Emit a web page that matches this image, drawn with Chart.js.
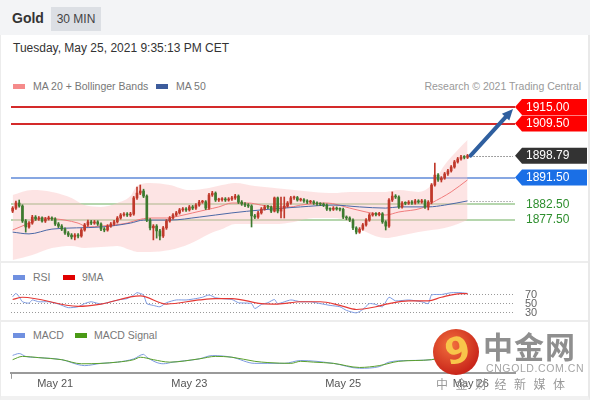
<!DOCTYPE html>
<html>
<head>
<meta charset="utf-8">
<script src="https://cdn.jsdelivr.net/npm/chart.js@4.4.1/dist/chart.umd.min.js"></script>
<style>
  html, body { margin: 0; padding: 0; background: #fff; }
  body { width: 590px; height: 400px; overflow: hidden; position: relative; font-family: "Liberation Sans", Arial, sans-serif; }
  #frame { position: absolute; left: 0; top: 0; width: 587px; height: 396px; border-left: 1px solid #ececec; border-right: 2px solid #e9e9e9; border-bottom: 4px solid #f1f1f1; }
  #hdr { position: absolute; left: 0; top: 0; width: 590px; height: 35px; background: #f3f4f6; }
  #hdr b { position: absolute; left: 12px; top: 10px; font-size: 14px; color: #333; }
  #hdr .tf { position: absolute; left: 51px; top: 7px; width: 50px; height: 24px; background: #dcdfe4; color: #444; font-size: 12px; line-height: 24px; text-align: center; }
  #stamp { position: absolute; left: 13px; top: 41px; font-size: 12px; color: #333; }
  .txt { position: absolute; font-size: 10.5px; color: #777; line-height: 13px; white-space: nowrap; }
  .sw { position: absolute; width: 12px; height: 5px; }
  .sep { position: absolute; left: 0; width: 588px; height: 2px; background: #ededed; }
  canvas { position: absolute; left: 0; }
  #logo { position: absolute; left: 433px; top: 329px; width: 46px; height: 46px; border-radius: 50%;
          background: radial-gradient(circle at 40% 35%, #f2703e, #c9261a 72%); overflow: hidden; }
  #logo span { position: absolute; left: 12px; top: 1px; font: bold 36px "DejaVu Sans", sans-serif; color: #f8c54a; transform: rotate(-12deg); }
  .wm { position: absolute; white-space: nowrap; color: #9a9a9a; font-family: "Noto Sans CJK SC", sans-serif; }
</style>
</head>
<body>
<div id="frame"></div>
<div id="hdr"><b>Gold</b><span class="tf">30 MIN</span></div>
<div id="stamp">Tuesday, May 25, 2021 9:35:13 PM CET</div>

<span class="sw" style="left:13px;top:84px;background:#f58b8b"></span>
<span class="txt" style="left:33px;top:80px">MA 20 + Bollinger Bands</span>
<span class="sw" style="left:156px;top:84px;background:#3d5c9c"></span>
<span class="txt" style="left:176px;top:80px">MA 50</span>
<span class="txt" style="right:9px;top:80px;color:#999">Research © 2021 Trading Central</span>

<canvas id="price" width="590" height="165" style="top:95px"></canvas>
<div class="sep" style="top:261px"></div>

<span class="sw" style="left:13px;top:275px;background:#7090e0"></span>
<span class="txt" style="left:33px;top:271px">RSI</span>
<span class="sw" style="left:63px;top:275px;background:#e00000"></span>
<span class="txt" style="left:82px;top:271px">9MA</span>
<canvas id="rsi" width="590" height="34" style="top:285px"></canvas>
<div class="sep" style="top:320px"></div>

<span class="sw" style="left:13px;top:333px;background:#7090e0"></span>
<span class="txt" style="left:33px;top:329px">MACD</span>
<span class="sw" style="left:75px;top:333px;background:#4a9a16"></span>
<span class="txt" style="left:94px;top:329px">MACD Signal</span>
<canvas id="macd" width="590" height="56" style="top:340px"></canvas>

<div id="logo"><span>9</span></div>
<div class="wm" style="left:483px;top:323px;font-size:30px;font-weight:bold;letter-spacing:1px;color:#8f8f8f">中金网</div>
<div class="wm" style="left:486px;top:362px;font-size:10.5px;letter-spacing:0.6px;font-family:'Liberation Sans',Arial,sans-serif;color:#a5a5a5">CNGOLD.COM.CN</div>
<div class="wm" style="left:436px;top:375px;font-size:12px;letter-spacing:7.5px;color:#999">中金财经新媒体</div>

<script>
// ---- candles (30 min), oldest first ----
const opens = [
  1880.3, 1881.3, 1883.0, 1882.0, 1877.0, 1875.0, 1876.3, 1878.3, 1877.7, 1878.0,
  1877.0, 1877.7, 1878.0, 1877.7, 1876.0, 1875.3, 1874.3, 1873.0, 1872.3, 1871.7,
  1872.3, 1872.0, 1874.0, 1875.7, 1876.7, 1876.3, 1876.7, 1876.0, 1874.3, 1874.0,
  1875.3, 1876.0, 1876.7, 1878.0, 1879.0, 1879.3, 1879.0, 1879.3, 1884.7, 1886.3,
  1887.0, 1885.3, 1877.3, 1874.7, 1875.3, 1873.7, 1872.0, 1874.7, 1877.0, 1878.0,
  1879.0, 1879.7, 1880.7, 1881.0, 1880.7, 1881.7, 1881.3, 1882.3, 1883.3, 1883.4,
  1881.3, 1885.7, 1886.3, 1884.0, 1884.1, 1884.3, 1884.0, 1884.3, 1884.7, 1885.3,
  1883.3, 1882.7, 1882.3, 1882.0, 1878.7, 1878.3, 1879.7, 1881.0, 1881.7, 1881.6,
  1880.3, 1884.7, 1880.3, 1881.3, 1882.0, 1883.0, 1884.7, 1884.8, 1884.0, 1884.1,
  1883.7, 1883.3, 1883.4, 1883.0, 1882.7, 1882.6, 1882.3, 1881.0, 1880.9, 1881.3,
  1881.0, 1880.9, 1878.3, 1878.0, 1877.3, 1874.7, 1873.3, 1874.3, 1875.7, 1877.3,
  1879.0, 1879.3, 1879.2, 1879.4, 1876.7, 1875.3, 1884.0, 1885.3, 1885.0, 1881.7,
  1883.0, 1882.9, 1883.3, 1883.0, 1883.7, 1883.3, 1883.7, 1881.7, 1883.3, 1889.0,
  1892.3, 1890.7, 1891.3, 1892.7, 1893.7, 1895.0, 1896.7, 1897.7, 1898.3, 1898.2
];
const highs = [
  1881.8, 1883.6, 1884.0, 1882.4, 1877.5, 1876.8, 1878.9, 1878.8, 1878.5, 1878.4,
  1878.2, 1878.6, 1878.4, 1878.1, 1876.5, 1875.8, 1874.7, 1873.5, 1872.8, 1872.8,
  1872.8, 1874.5, 1876.2, 1877.3, 1877.2, 1877.2, 1877.1, 1876.4, 1874.8, 1875.8,
  1876.5, 1877.2, 1878.5, 1879.5, 1879.8, 1879.8, 1879.9, 1885.2, 1888.3, 1889.0,
  1887.6, 1885.7, 1877.8, 1875.8, 1875.8, 1874.2, 1875.2, 1877.5, 1878.5, 1879.5,
  1880.2, 1881.2, 1881.5, 1881.5, 1882.2, 1882.2, 1882.8, 1883.9, 1883.9, 1883.8,
  1886.2, 1886.9, 1886.7, 1884.6, 1884.8, 1884.8, 1884.8, 1885.2, 1885.9, 1885.7,
  1883.8, 1883.1, 1882.8, 1882.4, 1879.2, 1880.2, 1881.5, 1882.2, 1882.2, 1882.0,
  1885.0, 1885.0, 1885.0, 1885.0, 1883.5, 1885.2, 1885.3, 1885.2, 1884.6, 1884.5,
  1884.1, 1883.9, 1883.8, 1883.4, 1883.1, 1883.0, 1882.7, 1881.4, 1881.8, 1881.7,
  1881.4, 1881.3, 1878.7, 1878.4, 1877.7, 1875.1, 1874.8, 1876.2, 1877.8, 1879.5,
  1879.8, 1879.8, 1879.9, 1879.8, 1877.1, 1884.5, 1886.7, 1885.8, 1885.4, 1883.5,
  1883.4, 1883.8, 1883.8, 1884.2, 1884.1, 1884.2, 1884.1, 1883.8, 1889.5, 1896.3,
  1892.8, 1891.8, 1893.2, 1894.2, 1895.5, 1897.2, 1898.2, 1898.9, 1898.8, 1899.2
];
const lows = [
  1879.8, 1880.9, 1881.6, 1876.5, 1873.3, 1874.6, 1875.9, 1877.2, 1877.2, 1876.6,
  1876.5, 1877.3, 1877.2, 1875.5, 1874.8, 1873.8, 1872.5, 1871.8, 1871.0, 1870.7,
  1871.4, 1871.6, 1873.6, 1875.2, 1875.8, 1875.9, 1875.5, 1873.8, 1873.4, 1873.6,
  1874.9, 1875.5, 1876.3, 1877.6, 1878.6, 1878.5, 1878.5, 1878.9, 1884.2, 1885.8,
  1884.8, 1876.8, 1874.0, 1870.7, 1871.3, 1870.7, 1871.5, 1874.2, 1876.6, 1877.6,
  1878.6, 1879.3, 1880.2, 1880.2, 1880.3, 1880.8, 1880.9, 1881.9, 1882.9, 1880.8,
  1880.9, 1885.2, 1883.5, 1883.5, 1883.6, 1883.5, 1883.6, 1883.9, 1884.2, 1882.8,
  1882.2, 1881.8, 1881.5, 1875.0, 1877.8, 1877.9, 1879.3, 1880.6, 1881.1, 1879.8,
  1880.0, 1879.7, 1878.0, 1878.0, 1881.6, 1882.6, 1884.2, 1883.6, 1883.6, 1883.2,
  1882.8, 1882.9, 1882.5, 1882.2, 1882.1, 1881.8, 1880.5, 1880.4, 1880.5, 1880.6,
  1880.4, 1877.8, 1877.4, 1876.8, 1874.1, 1872.7, 1872.9, 1873.9, 1875.3, 1876.9,
  1878.6, 1878.7, 1878.7, 1876.2, 1874.0, 1874.9, 1883.5, 1884.5, 1881.2, 1881.3,
  1882.4, 1882.5, 1882.5, 1882.6, 1882.9, 1882.9, 1881.2, 1880.7, 1882.7, 1888.6,
  1890.2, 1890.0, 1890.9, 1892.2, 1893.3, 1894.6, 1896.3, 1897.3, 1897.7, 1897.8
];
const closes = [
  1881.3, 1883.0, 1882.0, 1877.0, 1875.0, 1876.3, 1878.3, 1877.7, 1878.0, 1877.0,
  1877.7, 1878.0, 1877.7, 1876.0, 1875.3, 1874.3, 1873.0, 1872.3, 1871.7, 1872.3,
  1872.0, 1874.0, 1875.7, 1876.7, 1876.3, 1876.7, 1876.0, 1874.3, 1874.0, 1875.3,
  1876.0, 1876.7, 1878.0, 1879.0, 1879.3, 1879.0, 1879.3, 1884.7, 1886.3, 1887.0,
  1885.3, 1877.3, 1874.7, 1875.3, 1873.7, 1872.0, 1874.7, 1877.0, 1878.0, 1879.0,
  1879.7, 1880.7, 1881.0, 1880.7, 1881.7, 1881.3, 1882.3, 1883.3, 1883.4, 1881.3,
  1885.7, 1886.3, 1884.0, 1884.1, 1884.3, 1884.0, 1884.3, 1884.7, 1885.3, 1883.3,
  1882.7, 1882.3, 1882.0, 1878.7, 1878.3, 1879.7, 1881.0, 1881.7, 1881.6, 1880.3,
  1884.7, 1880.3, 1881.3, 1882.0, 1883.0, 1884.7, 1884.8, 1884.0, 1884.1, 1883.7,
  1883.3, 1883.4, 1883.0, 1882.7, 1882.6, 1882.3, 1881.0, 1880.9, 1881.3, 1881.0,
  1880.9, 1878.3, 1878.0, 1877.3, 1874.7, 1873.3, 1874.3, 1875.7, 1877.3, 1879.0,
  1879.3, 1879.2, 1879.4, 1876.7, 1875.3, 1884.0, 1885.3, 1885.0, 1881.7, 1883.0,
  1882.9, 1883.3, 1883.0, 1883.7, 1883.3, 1883.7, 1881.7, 1883.3, 1889.0, 1892.3,
  1890.7, 1891.3, 1892.7, 1893.7, 1895.0, 1896.7, 1897.7, 1898.3, 1898.2, 1898.79
];

// ---- overlays (bar index -> value) ----
const ma20Idx  = [0, 6, 9, 13, 16, 20, 23, 27, 31, 35, 38, 42, 47, 51, 55, 59, 63, 67, 72, 76, 80, 85, 88, 96, 103, 108, 114, 118, 125, 128, 134, 139];
const ma20Vals = [1874.0, 1876.7, 1878.0, 1877.7, 1877.3, 1876.3, 1875.0, 1875.3, 1875.7, 1876.3,
                  1877.3, 1878.0, 1878.0, 1878.7, 1879.7, 1880.7, 1881.7, 1883.0, 1883.0, 1882.3,
                  1881.7, 1881.7, 1882.3, 1883.0, 1881.3, 1880.0, 1879.0, 1880.0, 1881.3, 1883.0,
                  1886.7, 1890.7];
const ma50Idx  = [0, 5, 12, 27, 36, 40, 48, 57, 67, 76, 88, 98, 106, 114, 118, 127, 132, 139];
const ma50Vals = [1873.3, 1872.7, 1874.3, 1875.0, 1876.3, 1877.3, 1877.3, 1878.3, 1879.7, 1880.7,
                  1881.7, 1882.3, 1881.7, 1881.3, 1881.7, 1881.7, 1882.3, 1883.7];
const bandIdx   = [0, 6, 12, 18, 22, 27, 32, 36, 38, 42, 48, 54, 60, 64, 68, 74, 80, 86, 92, 98, 103, 108, 114, 118, 124, 128, 132, 136, 139];
const bandUpper = [1885.7, 1887.3, 1886.7, 1884.7, 1882.3, 1881.7, 1883.0, 1885.3, 1888.7, 1889.7,
                   1889.0, 1887.3, 1888.0, 1889.0, 1889.7, 1888.7, 1888.0, 1887.3, 1886.7, 1886.3,
                   1886.7, 1886.7, 1886.7, 1887.3, 1886.7, 1889.0, 1895.7, 1900.7, 1904.0];
const bandLower = [1864.0, 1865.7, 1868.0, 1868.7, 1868.0, 1868.3, 1868.7, 1867.3, 1866.7, 1866.7,
                   1867.3, 1869.3, 1872.7, 1874.3, 1876.0, 1876.0, 1876.0, 1876.7, 1878.0, 1878.0,
                   1876.7, 1873.3, 1871.3, 1872.0, 1873.3, 1874.0, 1874.7, 1876.0, 1877.3];

// ---- key levels ----
const levelValues = [1915.00, 1909.50, 1891.50, 1882.50, 1877.50];
const levelKinds  = ['res', 'res', 'pivot', 'sup', 'sup'];

// ---- RSI ----
const rsiIdx  = [0, 1, 2, 3, 5, 6, 8, 11, 14, 17, 20, 22, 24, 27, 30, 33, 35, 37, 38, 40,
                 41, 43, 45, 47, 50, 53, 56, 58, 60, 62, 64, 67, 69, 73, 74, 76, 78, 80, 81, 85,
                 88, 91, 94, 97, 100, 102, 105, 107, 109, 111, 113, 115, 117, 121, 125, 127, 128, 131, 134, 137, 139];
const rsiVals = [64, 71.5, 64, 53, 50, 57, 53, 53, 48, 40, 42, 49, 53, 48, 53, 58, 60, 68, 73, 68,
                 49, 45, 42, 51, 57, 57, 60, 63, 68, 62, 60, 58, 51, 49, 38, 47, 51, 58, 49, 57,
                 53, 53, 49, 45, 42, 34, 28.5, 36, 49, 47, 42, 63, 55, 57, 53, 49, 68, 69, 73, 73, 71.5];
const rsiMaIdx  = [0, 3, 20, 27, 39, 47, 57, 62, 67, 76, 81, 88, 94, 100, 105, 111, 115, 121, 127, 131, 137, 139];
const rsiMaVals = [58, 63, 43, 48, 66, 48, 57, 60, 60, 49, 48, 53, 53, 45, 36, 42, 49, 55, 55, 63, 71, 71];
const rsiLevels = [70, 50, 30];

// ---- MACD ----
const macdIdx  = [0, 2, 4, 8, 15, 20, 22, 27, 32, 37, 40, 41, 46, 49, 57, 61, 67, 74, 78, 83, 88, 98, 106, 112, 115, 121, 128, 133, 139];
const macdVals = [1.75, 2.2, 1.5, 1.2, 0.7, -0.5, -0.75, -0.2, 0.1, 0.9, 2.0, 1.3, -0.3, 0.1, 0.9, 1.7, 1.3, -0.2, -0.2, -0.2,
                  0.5, -0.2, -1.4, -1.0, 0.1, 0.5, 0.7, 2.5, 4.0];
const signalIdx  = [0, 3, 8, 15, 21, 27, 32, 37, 39, 43, 48, 57, 62, 67, 74, 78, 85, 88, 92, 98, 106, 112, 118, 128, 134, 139];
const signalVals = [0.7, 1.5, 1.2, 0.7, -0.3, -0.2, 0.1, 0.7, 1.3, 0.7, 0.1, 0.9, 1.5, 1.3, 0.3, 0, -0.2, 0.3, 0.1, -0.2,
                    -1.2, -0.75, 0.3, 0.7, 1.75, 3.0];

// ---- time axis ----
const dayIdx    = [13, 54, 101, 140];
const dayLabels = ['May 21', 'May 23', 'May 25', 'May 26'];

const SLOTS = 154;          // bar slots across the plot (candles + empty space on the right)
const UP = '#c0392b', DOWN = '#3d7a2e';
const FONT = '"Liberation Sans", Arial, sans-serif';
Chart.defaults.font.family = FONT;

const pts = (idx, vals) => idx.map((x, k) => ({ x, y: vals[k] }));
const candleColor = c => closes[c.dataIndex] >= opens[c.dataIndex] ? UP : DOWN;
const xHidden = { type: 'linear', min: -0.5, max: SLOTS - 0.5, offset: false, display: false };
const baseOpts = {
  responsive: false, animation: false, events: [],
  layout: { padding: { left: 11, right: 75, top: 0, bottom: 0 } },
  plugins: { legend: { display: false }, tooltip: { enabled: false } }
};

function dotted(ctx, x0, x1, y, color) {
  ctx.save();
  ctx.strokeStyle = color; ctx.lineWidth = 1; ctx.setLineDash([1, 2]);
  ctx.beginPath(); ctx.moveTo(x0, Math.round(y) + 0.5); ctx.lineTo(x1, Math.round(y) + 0.5); ctx.stroke();
  ctx.restore();
}

function drawTag(ctx, y, text, bg) {
  const x0 = 515, tip = 7, x1 = 587, h = 16;
  ctx.fillStyle = bg;
  ctx.beginPath();
  ctx.moveTo(x0, y);
  ctx.lineTo(x0 + tip, y - h / 2);
  ctx.lineTo(x1, y - h / 2);
  ctx.lineTo(x1, y + h / 2);
  ctx.lineTo(x0 + tip, y + h / 2);
  ctx.closePath();
  ctx.fill();
  ctx.fillStyle = '#fff';
  ctx.font = '12px ' + FONT;
  ctx.textAlign = 'left'; ctx.textBaseline = 'middle';
  ctx.fillText(text, x0 + 11, y + 0.5);
}

const levelStyle = {
  res:   { color: '#d42a2a', width: 2, tag: '#ff0000' },
  pivot: { color: '#5f8ad8', width: 1.5, tag: '#1a6fe6' },
  sup:   { color: '#b5d6ad', width: 2, text: '#2f8f2f' }
};

// horizontal levels, tags, last price, arrow
const priceOverlay = {
  id: 'priceOverlay',
  beforeDatasetsDraw(chart) {
    const { ctx, chartArea: a, scales: { y } } = chart;
    ctx.save();
    levelValues.forEach((v, k) => {
      const st = levelStyle[levelKinds[k]];
      const py = Math.round(y.getPixelForValue(v));
      ctx.strokeStyle = st.color; ctx.lineWidth = st.width;
      ctx.beginPath(); ctx.moveTo(a.left, py); ctx.lineTo(a.right, py); ctx.stroke();
    });
    ctx.restore();
  },
  afterDatasetsDraw(chart) {
    const { ctx, scales: { x, y } } = chart;
    const last = closes.length - 1;
    const lx = x.getPixelForValue(last), ly = y.getPixelForValue(closes[last]);
    ctx.save();
    dotted(ctx, lx + 3, 513, ly, '#444');
    dotted(ctx, lx + 3, 513, y.getPixelForValue(ma50Vals[ma50Vals.length - 1]), '#777');

    levelValues.forEach((v, k) => {
      const st = levelStyle[levelKinds[k]];
      const py = y.getPixelForValue(v);
      if (st.tag) drawTag(ctx, py, v.toFixed(2), st.tag);
      else {
        ctx.fillStyle = st.text; ctx.font = '12px ' + FONT;
        ctx.textAlign = 'left'; ctx.textBaseline = 'middle';
        ctx.fillText(v.toFixed(2), 526, py + 0.5);
      }
    });
    drawTag(ctx, ly, closes[last].toFixed(2), '#333');

    // target arrow from last close to first resistance
    const tx = 513, ty = y.getPixelForValue(levelValues[0]) + 2;
    const sx = lx + 3, sy = ly;
    const ang = Math.atan2(ty - sy, tx - sx), hl = 11, hw = 5;
    const bx = tx - hl * Math.cos(ang), by = ty - hl * Math.sin(ang);
    ctx.strokeStyle = '#2f5f9f'; ctx.fillStyle = '#2f5f9f'; ctx.lineWidth = 4; ctx.lineCap = 'round';
    ctx.beginPath(); ctx.moveTo(sx, sy); ctx.lineTo(bx, by); ctx.stroke();
    ctx.beginPath();
    ctx.moveTo(tx, ty);
    ctx.lineTo(bx + hw * Math.sin(ang), by - hw * Math.cos(ang));
    ctx.lineTo(bx - hw * Math.sin(ang), by + hw * Math.cos(ang));
    ctx.closePath(); ctx.fill();
    ctx.restore();
  }
};

new Chart(document.getElementById('price'), {
  type: 'bar',
  data: {
    datasets: [
      { type: 'line', data: pts(bandIdx, bandUpper), borderWidth: 0, pointRadius: 0, cubicInterpolationMode: 'monotone', fill: false, order: 10 },
      { type: 'line', data: pts(bandIdx, bandLower), borderWidth: 0, pointRadius: 0, cubicInterpolationMode: 'monotone', fill: '-1',
        backgroundColor: 'rgba(250, 195, 195, 0.45)', order: 9 },
      { type: 'line', data: pts(ma20Idx, ma20Vals), borderColor: '#f07c7c', borderWidth: 1, pointRadius: 0, cubicInterpolationMode: 'monotone', order: 5 },
      { type: 'line', data: pts(ma50Idx, ma50Vals), borderColor: '#4b68a6', borderWidth: 1, pointRadius: 0, cubicInterpolationMode: 'monotone', order: 4 },
      { data: closes.map((c, i) => ({ x: i, y: [lows[i], highs[i]] })), backgroundColor: candleColor,
        barThickness: 1, grouped: false, order: 2 },
      { data: closes.map((c, i) => ({ x: i, y: [opens[i], c] })), backgroundColor: candleColor,
        barThickness: 2, minBarLength: 1, grouped: false, order: 1 }
    ]
  },
  options: {
    ...baseOpts,
    scales: {
      x: xHidden,
      y: { type: 'linear', min: 1864, max: 1919, display: false }
    }
  },
  plugins: [priceOverlay]
});

// RSI panel
const rsiOverlay = {
  id: 'rsiOverlay',
  beforeDatasetsDraw(chart) {
    const { ctx, chartArea: a, scales: { y } } = chart;
    rsiLevels.forEach(v => dotted(ctx, a.left, 513, y.getPixelForValue(v), '#999'));
  },
  afterDraw(chart) {
    const { ctx, scales: { y } } = chart;
    ctx.save();
    ctx.fillStyle = '#666'; ctx.font = '11px ' + FONT;
    ctx.textAlign = 'left'; ctx.textBaseline = 'middle';
    rsiLevels.forEach(v => ctx.fillText(String(v), 525, y.getPixelForValue(v) + 0.5));
    ctx.restore();
  }
};

new Chart(document.getElementById('rsi'), {
  type: 'line',
  data: {
    datasets: [
      { data: pts(rsiMaIdx, rsiMaVals), borderColor: '#e53935', borderWidth: 1.2, pointRadius: 0, cubicInterpolationMode: 'monotone' },
      { data: pts(rsiIdx, rsiVals), borderColor: '#7d9ae0', borderWidth: 1, pointRadius: 0, tension: 0.2 }
    ]
  },
  options: {
    ...baseOpts,
    scales: { x: xHidden, y: { type: 'linear', min: 15, max: 90, display: false } }
  },
  plugins: [rsiOverlay]
});

// MACD panel with the time axis
const macdOverlay = {
  id: 'macdOverlay',
  afterDraw(chart) {
    const { ctx, chartArea: a } = chart;
    ctx.save();
    ctx.strokeStyle = '#999'; ctx.lineWidth = 1;
    ctx.beginPath(); ctx.moveTo(a.left + 0.5, a.bottom); ctx.lineTo(a.left + 0.5, a.bottom + 6); ctx.stroke();
    ctx.restore();
  }
};

new Chart(document.getElementById('macd'), {
  type: 'line',
  data: {
    datasets: [
      { data: pts(signalIdx, signalVals), borderColor: '#5aa02c', borderWidth: 1, pointRadius: 0, cubicInterpolationMode: 'monotone' },
      { data: pts(macdIdx, macdVals), borderColor: '#7d9ae0', borderWidth: 1, pointRadius: 0, cubicInterpolationMode: 'monotone' }
    ]
  },
  options: {
    ...baseOpts,
    scales: {
      x: {
        type: 'linear', min: -0.5, max: SLOTS - 0.5, offset: false,
        afterBuildTicks: s => { s.ticks = dayIdx.map(v => ({ value: v })); },
        ticks: {
          autoSkip: false, maxRotation: 0, padding: 5, color: '#555', font: { size: 11 },
          callback: v => { const k = dayIdx.indexOf(v); return k < 0 ? '' : dayLabels[k]; }
        },
        grid: { display: false, drawTicks: false },
        border: { display: true, color: '#9a9a9a', width: 2 }
      },
      y: { type: 'linear', min: -2.5, max: 5.5, display: false }
    }
  },
  plugins: [macdOverlay]
});
</script>
</body>
</html>
